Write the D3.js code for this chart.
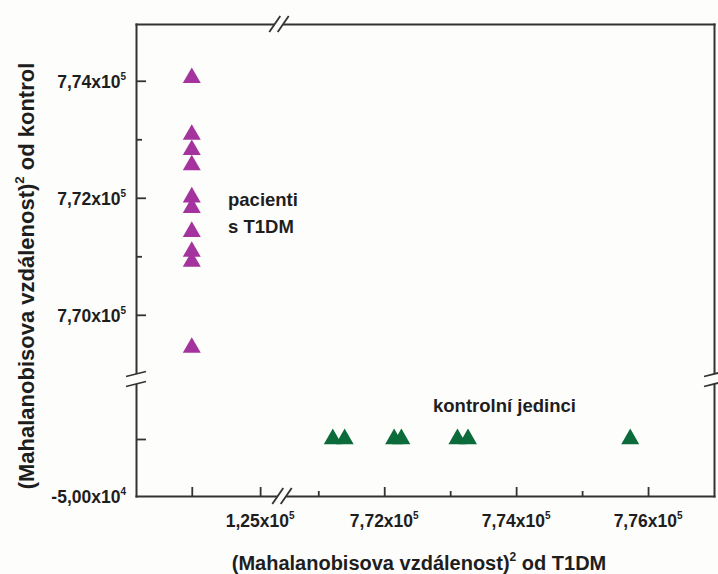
<!DOCTYPE html>
<html><head><meta charset="utf-8">
<script src="https://cdn.jsdelivr.net/npm/d3@7"></script>
<style>
html,body{margin:0;padding:0;background:#fdfdfb;}
svg{display:block;font-family:"Liberation Sans",Arial,sans-serif;font-weight:bold;}
</style></head><body>
<svg id="chart" width="718" height="574"></svg>
<script>
// ---- data ----
const patientsX = [0, 0, 0, 0, 0, 0, 0, 0, 0, 0];
const patientsY = [774050, 773080, 772820, 772560, 772010, 771830, 771420, 771080, 770910, 769440];
const controlsX = [771220, 771400, 772150, 772260, 773110, 773270, 775730];
const controlsY = [0, 0, 0, 0, 0, 0, 0];

// axis segments (broken axes)
const xLowDomain = [-102000, 165000];
const xHighDomain = [770450, 777000];
const yLowDomain = [-50000, 53500];
const yHighDomain = [768920, 774970];

const xLowMajor = [0, 125000];
const xLowLabels = [125000];
const xHighMajor = [772000, 774000, 776000];
const xHighMinor = [771000, 773000, 775000];
const yLowMajor = [0];
const yLowLabels = [-50000];
const yHighMajor = [770000, 772000, 774000];
const yHighMinor = [771000, 773000];

const xTitle = ["(Mahalanobisova vzdálenost)", "2", " od T1DM"];
const yTitle = ["(Mahalanobisova vzdálenost)", "2", " od kontrol"];
const patientsLabel = ["pacienti", "s T1DM"];
const controlsLabel = "kontrolní jedinci";

// ---- layout ----
const L = 136, R = 714, T = 24, B = 496, XB = 282, YB = 378;
const BG = "#fdfdfb", AX = "#333", MAG = "#a4339e", GRN = "#0b6b3a";

const svg = d3.select("#chart");
svg.append("rect").attr("width", 718).attr("height", 574).attr("fill", BG);

const xLow = d3.scaleLinear().domain(xLowDomain).range([L, XB]);
const xHigh = d3.scaleLinear().domain(xHighDomain).range([XB, R]);
const yHigh = d3.scaleLinear().domain(yHighDomain).range([YB, T]);
const yLow = d3.scaleLinear().domain(yLowDomain).range([B, YB]);

function styleAxis(g, keepDomain) {
  g.selectAll(".domain").attr("stroke", AX).attr("stroke-width", 2)
    .attr("stroke-linecap", "square");
  if (!keepDomain) g.select(".domain").remove();
  g.selectAll(".tick line").attr("stroke", AX).attr("stroke-width", 1.8);
  g.selectAll(".tick text").remove();
}
function addAxis(axis, tx, ty, keepDomain) {
  const g = svg.append("g").attr("transform", `translate(${tx},${ty})`).call(axis);
  styleAxis(g, keepDomain);
  return g;
}
// bottom
addAxis(d3.axisBottom(xLow).tickValues(xLowMajor).tickSizeInner(-9).tickSizeOuter(0), 0, B, true);
addAxis(d3.axisBottom(xHigh).tickValues(xHighMajor).tickSizeInner(-9).tickSizeOuter(0), 0, B, true);
addAxis(d3.axisBottom(xHigh).tickValues(xHighMinor).tickSizeInner(-5).tickSizeOuter(0), 0, B, false);
// top
addAxis(d3.axisTop(xLow).tickValues([]).tickSizeOuter(0), 0, T, true);
addAxis(d3.axisTop(xHigh).tickValues([]).tickSizeOuter(0), 0, T, true);
// left
addAxis(d3.axisLeft(yHigh).tickValues(yHighMajor).tickSizeInner(-10).tickSizeOuter(0), L, 0, true);
addAxis(d3.axisLeft(yHigh).tickValues(yHighMinor).tickSizeInner(-6).tickSizeOuter(0), L, 0, false);
addAxis(d3.axisLeft(yLow).tickValues(yLowMajor).tickSizeInner(-10).tickSizeOuter(0), L, 0, true);
// right
addAxis(d3.axisRight(yHigh).tickValues([]).tickSizeOuter(0), R, 0, true);
addAxis(d3.axisRight(yLow).tickValues([]).tickSizeOuter(0), R, 0, true);

// break marks
function breakH(cx, cy) {
  svg.append("rect").attr("x", cx - 4.2).attr("y", cy - 3).attr("width", 8.4).attr("height", 6).attr("fill", BG);
  [cx - 4.2, cx + 4.2].forEach(c => {
    svg.append("line").attr("x1", c - 5.5).attr("y1", cy + 8).attr("x2", c + 5.5).attr("y2", cy - 8)
      .attr("stroke", AX).attr("stroke-width", 1.8);
  });
}
function breakV(cx, cy) {
  svg.append("rect").attr("x", cx - 3).attr("y", cy - 5).attr("width", 6).attr("height", 10).attr("fill", BG);
  [cy - 5, cy + 5].forEach(c => {
    svg.append("line").attr("x1", cx - 10).attr("y1", c + 2.5).attr("x2", cx + 10).attr("y2", c - 2.5)
      .attr("stroke", AX).attr("stroke-width", 1.8);
  });
}
breakH(279, T);
breakH(282, B);
breakV(L, 379);
breakV(R, 379);

// tick labels
function sci(v) {
  const e = Math.floor(Math.log10(Math.abs(v)));
  const m = v / Math.pow(10, e);
  return [m.toFixed(2).replace(".", ",") + "x10", String(e)];
}
function label(x, y, v, anchor) {
  const [a, b] = sci(v);
  const t = svg.append("text").attr("x", x).attr("y", y).attr("text-anchor", anchor)
    .attr("fill", "#1e1e1e").attr("font-size", 17.5);
  t.append("tspan").text(a);
  t.append("tspan").attr("font-size", 10).attr("dy", -8).text(b);
}
yHighMajor.forEach(v => label(126, yHigh(v) + 7.5, v, "end"));
yLowLabels.forEach(v => label(126, yLow(v) + 7, v, "end"));
xLowLabels.forEach(v => label(xLow(v), 527, v, "middle"));
xHighMajor.forEach(v => label(xHigh(v), 527, v, "middle"));

// titles
function title(sel, parts, fs) {
  sel.attr("text-anchor", "middle").attr("fill", "#1e1e1e").attr("font-size", fs);
  sel.append("tspan").text(parts[0]);
  sel.append("tspan").attr("font-size", fs * 0.6).attr("dy", -fs * 0.45).text(parts[1]);
  sel.append("tspan").attr("font-size", fs).attr("dy", fs * 0.45).text(parts[2]);
}
title(svg.append("text").attr("x", 419).attr("y", 570), xTitle, 20);
title(svg.append("text").attr("transform", "translate(34,276) rotate(-90)"), yTitle, 22);

// annotations
svg.append("text").attr("x", 228).attr("y", 206).attr("font-size", 18.5).attr("fill", "#1e1e1e").text(patientsLabel[0]);
svg.append("text").attr("x", 228).attr("y", 233).attr("font-size", 18.5).attr("fill", "#1e1e1e").text(patientsLabel[1]);
svg.append("text").attr("x", 433).attr("y", 412).attr("font-size", 18.5).attr("fill", "#1e1e1e").text(controlsLabel);

// markers
const tri = d3.symbol().type(d3.symbolTriangle).size(140);
svg.append("g").selectAll("path").data(patientsY).join("path")
  .attr("d", tri)
  .attr("transform", (d, i) => `translate(${xLow(patientsX[i])},${yHigh(d)})`)
  .attr("fill", MAG);
svg.append("g").selectAll("path").data(controlsX).join("path")
  .attr("d", tri)
  .attr("transform", (d, i) => `translate(${xHigh(d)},${yLow(controlsY[i])})`)
  .attr("fill", GRN);
</script>
</body></html>
